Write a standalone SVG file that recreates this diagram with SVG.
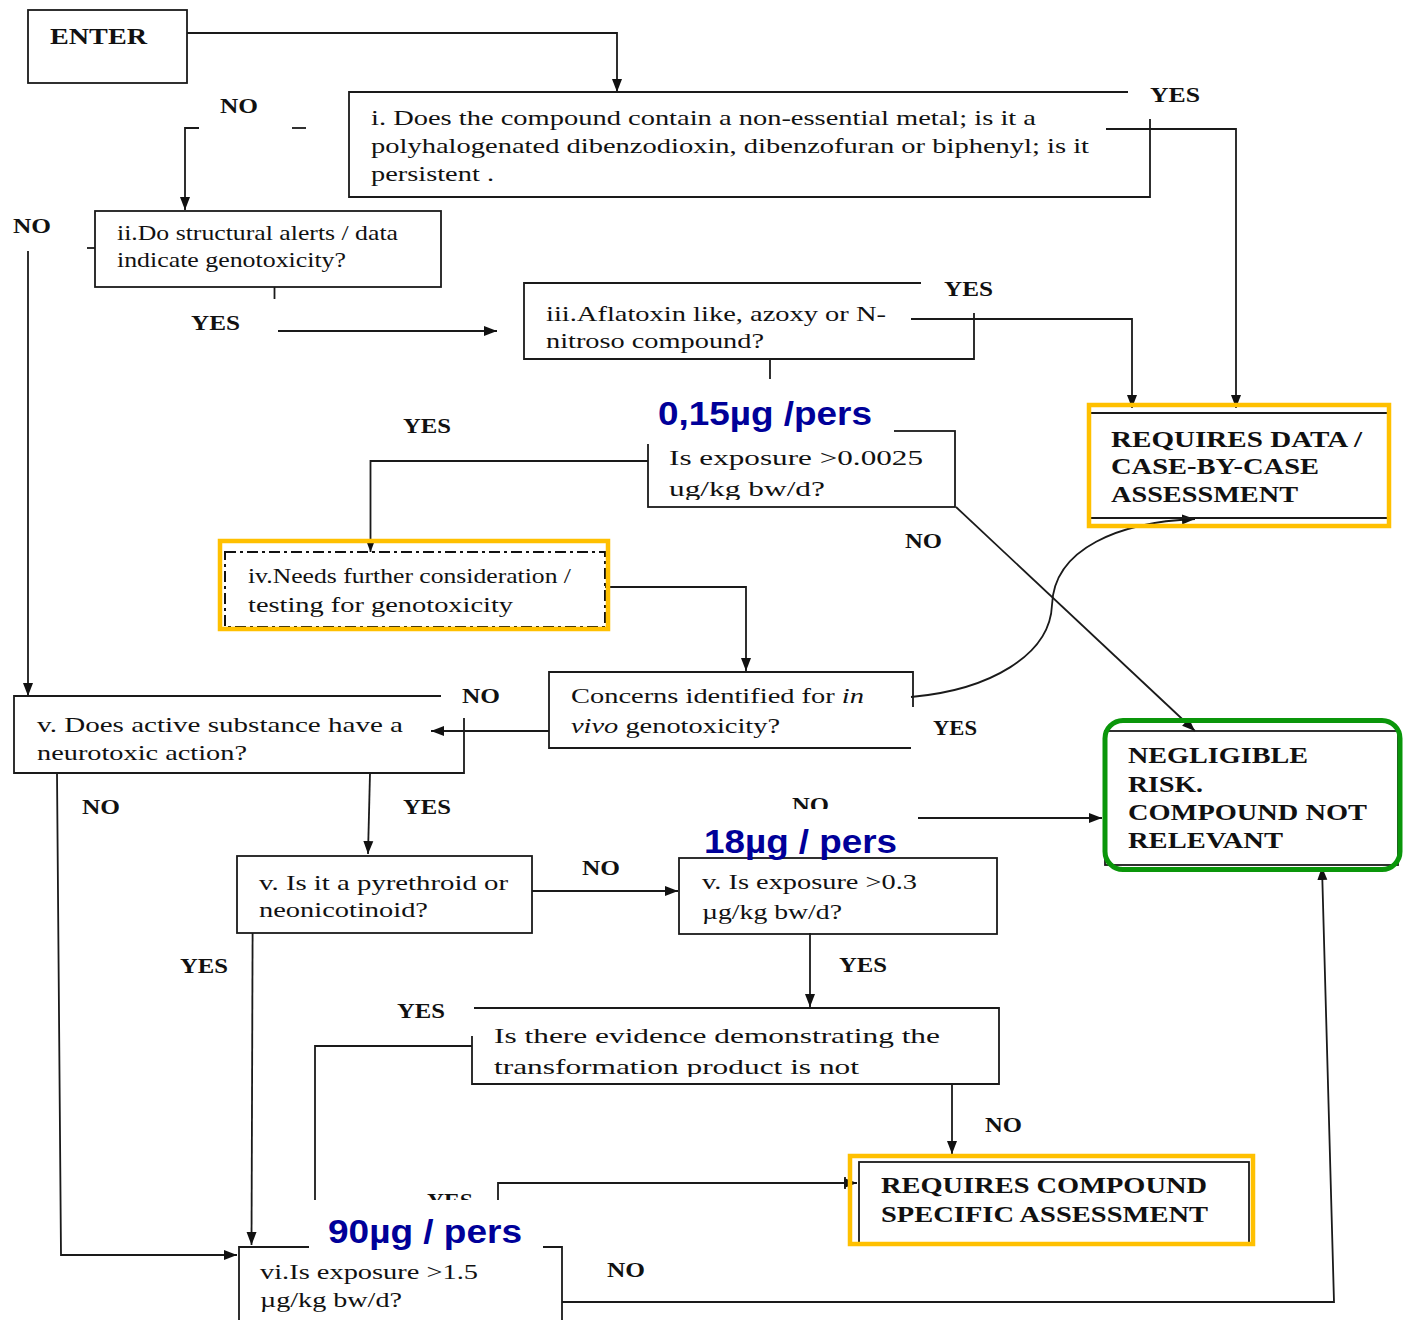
<svg xmlns="http://www.w3.org/2000/svg" width="1403" height="1320" viewBox="0 0 1403 1320">
  <defs>
    <style>
      .ln { fill: none; stroke: #1a1a1a; stroke-width: 1.8; }
      .arr { marker-end: url(#ah); }
      .box { fill: none; stroke: #1a1a1a; stroke-width: 1.8; }
      .t { font-family: "Liberation Serif", "Times New Roman", serif; font-size: 22px; fill: #111; }
      .bt { font-family: "Liberation Serif", "Times New Roman", serif; font-size: 23px; font-weight: bold; fill: #111; }
      .lbl { font-family: "Liberation Serif", "Times New Roman", serif; font-size: 20px; font-weight: bold; fill: #111; }
      .blue { font-family: "Liberation Sans", Arial, sans-serif; font-size: 33px; font-weight: bold; fill: #000099; }
      .patch { fill: #ffffff; stroke: none; }
      .hl-o { fill: none; stroke: #FFC000; stroke-width: 4.5; }
      .hl-g { fill: none; stroke: #0a960a; stroke-width: 5; }
    </style>
    <marker id="ah" viewBox="0 0 13 11" refX="13" refY="5.5" markerWidth="13" markerHeight="11" markerUnits="userSpaceOnUse" orient="auto">
      <path d="M0,0.5 L13,5.5 L0,10.5 z" fill="#111"/>
    </marker>
    <clipPath id="clipExp"><rect x="640" y="430" width="320" height="70"/></clipPath>
    <clipPath id="clipEvid"><rect x="470" y="1005" width="530" height="72"/></clipPath>
  </defs>

  <rect width="1403" height="1320" fill="#ffffff"/>

  <!-- connectors -->
  <g id="connectors">
    <path class="ln arr" d="M187,33 H617 V92"/>
    <path class="ln arr" d="M199,128 H185 V210"/>
    <path class="ln" d="M292,128 H306"/>
    <path class="ln arr" d="M28,251 V696"/>
    <path class="ln" d="M87,248 H95"/>
    <path class="ln" d="M274.5,287 V299"/>
    <path class="ln arr" d="M278,331 H497"/>
    <path class="ln arr" d="M1106,129 H1236 V408"/>
    <path class="ln arr" d="M911,319 H1132 V408"/>
    <path class="ln" d="M770,359 V379"/>
    <path class="ln arr" d="M648,461 H370.5 V552"/>
    <path class="ln arr" d="M956,507 L1195,731"/>
    <path class="ln arr" d="M605,587 H746 V671"/>
    <path class="ln arr" d="M911,697 C990,690 1050,655 1052,605 C1054,548 1120,522 1195,519"/>
    <path class="ln arr" d="M549,731 H431"/>
    <path class="ln arr" d="M370,773 L368,854"/>
    <path class="ln arr" d="M57,773 L61,1255 H237"/>
    <path class="ln arr" d="M532,891 H678"/>
    <path class="ln arr" d="M252.6,933 L251.5,1245"/>
    <path class="ln arr" d="M918,818 H1102"/>
    <path class="ln arr" d="M810,933 V1007"/>
    <path class="ln" d="M472,1046 H315 V1200"/>
    <path class="ln arr" d="M952,1084 V1154"/>
    <path class="ln arr" d="M498,1200 V1183 H857"/>
    <path class="ln" d="M845,1177 V1189"/>
    <path class="ln arr" d="M562,1302 H1334 L1322,867"/>
  </g>

  <!-- branch labels -->
  <g id="branch-labels">
    <text class="lbl" x="220" y="113" textLength="38" lengthAdjust="spacingAndGlyphs">NO</text>
    <text class="lbl" x="1150" y="102" textLength="50" lengthAdjust="spacingAndGlyphs">YES</text>
    <text class="lbl" x="13" y="233" textLength="38" lengthAdjust="spacingAndGlyphs">NO</text>
    <text class="lbl" x="191" y="330" textLength="49" lengthAdjust="spacingAndGlyphs">YES</text>
    <text class="lbl" x="944" y="296" textLength="49" lengthAdjust="spacingAndGlyphs">YES</text>
    <text class="lbl" x="403" y="433" textLength="48" lengthAdjust="spacingAndGlyphs">YES</text>
    <text class="lbl" x="905" y="548" textLength="37" lengthAdjust="spacingAndGlyphs">NO</text>
    <text class="lbl" x="462" y="703" textLength="38" lengthAdjust="spacingAndGlyphs">NO</text>
    <text class="lbl" x="933" y="735" textLength="44" lengthAdjust="spacingAndGlyphs">YES</text>
    <text class="lbl" x="82" y="814" textLength="38" lengthAdjust="spacingAndGlyphs">NO</text>
    <text class="lbl" x="403" y="814" textLength="48" lengthAdjust="spacingAndGlyphs">YES</text>
    <text class="lbl" x="792" y="812" textLength="37" lengthAdjust="spacingAndGlyphs">NO</text>
    <text class="lbl" x="582" y="875" textLength="38" lengthAdjust="spacingAndGlyphs">NO</text>
    <text class="lbl" x="180" y="973" textLength="48" lengthAdjust="spacingAndGlyphs">YES</text>
    <text class="lbl" x="839" y="972" textLength="48" lengthAdjust="spacingAndGlyphs">YES</text>
    <text class="lbl" x="397" y="1018" textLength="48" lengthAdjust="spacingAndGlyphs">YES</text>
    <text class="lbl" x="985" y="1132" textLength="37" lengthAdjust="spacingAndGlyphs">NO</text>
    <text class="lbl" x="427" y="1208" textLength="46" lengthAdjust="spacingAndGlyphs">YES</text>
    <text class="lbl" x="607" y="1277" textLength="38" lengthAdjust="spacingAndGlyphs">NO</text>
  </g>

  <!-- nodes -->
  <g id="enter">
    <rect class="box" x="28" y="10" width="159" height="73"/>
    <text class="bt" x="50" y="44" font-size="22" textLength="97" lengthAdjust="spacingAndGlyphs">ENTER</text>
  </g>

  <g id="q-metal">
    <path class="box" d="M1128,92 H349 V197 H1150 V119"/>
    <text class="t" x="371" y="125" textLength="665" lengthAdjust="spacingAndGlyphs">i. Does the compound contain a non-essential metal; is it a</text>
    <text class="t" x="371" y="153" textLength="718" lengthAdjust="spacingAndGlyphs">polyhalogenated dibenzodioxin, dibenzofuran or biphenyl; is it</text>
    <text class="t" x="371" y="181" textLength="123" lengthAdjust="spacingAndGlyphs">persistent .</text>
  </g>

  <g id="q-alerts">
    <rect class="box" x="95" y="211" width="346" height="76"/>
    <text class="t" x="117" y="240" font-size="20" textLength="281" lengthAdjust="spacingAndGlyphs">ii.Do structural alerts / data</text>
    <text class="t" x="117" y="267" font-size="20" textLength="229" lengthAdjust="spacingAndGlyphs">indicate genotoxicity?</text>
  </g>

  <g id="q-aflatoxin">
    <path class="box" d="M921,283 H524 V359 H974 V313"/>
    <text class="t" x="546" y="321" textLength="340" lengthAdjust="spacingAndGlyphs">iii.Aflatoxin like, azoxy or N-</text>
    <text class="t" x="546" y="348" textLength="218" lengthAdjust="spacingAndGlyphs">nitroso compound?</text>
  </g>

  <g id="q-exposure-0025">
    <rect class="box" x="648" y="431" width="307" height="76"/>
    <text class="t" x="669" y="465" textLength="254" lengthAdjust="spacingAndGlyphs">Is exposure &gt;0.0025</text>
    <text class="t" x="669" y="496" textLength="156" lengthAdjust="spacingAndGlyphs" clip-path="url(#clipExp)">ug/kg bw/d?</text>
  </g>

  <g id="needs-testing">
    <rect x="225" y="552" width="380" height="75" fill="none" stroke="#111" stroke-width="2" stroke-dasharray="11 4 3 4"/>
    <text class="t" x="248" y="583" font-size="21" textLength="323" lengthAdjust="spacingAndGlyphs">iv.Needs further consideration /</text>
    <text class="t" x="248" y="612" font-size="21" textLength="265" lengthAdjust="spacingAndGlyphs">testing for genotoxicity</text>
    <rect class="hl-o" x="220" y="541" width="388" height="88"/>
  </g>

  <g id="q-in-vivo">
    <path class="box" d="M911,748 H549 V672 H913 V707"/>
    <text class="t" x="571" y="703" textLength="293" lengthAdjust="spacingAndGlyphs">Concerns identified for <tspan font-style="italic">in</tspan></text>
    <text class="t" x="571" y="733" textLength="209" lengthAdjust="spacingAndGlyphs"><tspan font-style="italic">vivo</tspan> genotoxicity?</text>
  </g>

  <g id="q-neurotoxic">
    <path class="box" d="M441,696 H14 V773 H464 V718"/>
    <text class="t" x="37" y="732" textLength="366" lengthAdjust="spacingAndGlyphs">v. Does active substance have a</text>
    <text class="t" x="37" y="760" textLength="210" lengthAdjust="spacingAndGlyphs">neurotoxic action?</text>
  </g>

  <g id="q-pyrethroid">
    <rect class="box" x="237" y="856" width="295" height="77"/>
    <text class="t" x="259" y="890" font-size="21" textLength="249" lengthAdjust="spacingAndGlyphs">v. Is it a pyrethroid or</text>
    <text class="t" x="259" y="917" font-size="21" textLength="169" lengthAdjust="spacingAndGlyphs">neonicotinoid?</text>
  </g>

  <g id="q-exposure-03">
    <rect class="box" x="679" y="858" width="318" height="76"/>
    <text class="t" x="702" y="889" font-size="21" textLength="215" lengthAdjust="spacingAndGlyphs">v. Is exposure &gt;0.3</text>
    <text class="t" x="702" y="919" font-size="21" textLength="140" lengthAdjust="spacingAndGlyphs">µg/kg bw/d?</text>
  </g>

  <g id="q-transformation">
    <path class="box" d="M474,1008 H999 V1084 H472 V1036"/>
    <text class="t" x="494" y="1043" font-size="24" textLength="446" lengthAdjust="spacingAndGlyphs">Is there evidence demonstrating the</text>
    <text class="t" x="494" y="1074" font-size="24" textLength="365" lengthAdjust="spacingAndGlyphs" clip-path="url(#clipEvid)">transformation product is not</text>
  </g>

  <g id="q-exposure-15">
    <path class="box" d="M239,1320 V1247 H562 V1320"/>
    <text class="t" x="260" y="1279" font-size="21" textLength="218" lengthAdjust="spacingAndGlyphs">vi.Is exposure &gt;1.5</text>
    <text class="t" x="260" y="1307" font-size="21" textLength="142" lengthAdjust="spacingAndGlyphs">µg/kg bw/d?</text>
  </g>

  <g id="requires-data">
    <path class="box" d="M1090,413 H1388 M1090,518 H1388"/>
    <text class="bt" x="1111" y="447" textLength="251" lengthAdjust="spacingAndGlyphs">REQUIRES DATA /</text>
    <text class="bt" x="1111" y="474" textLength="208" lengthAdjust="spacingAndGlyphs">CASE-BY-CASE</text>
    <text class="bt" x="1111" y="502" textLength="187" lengthAdjust="spacingAndGlyphs">ASSESSMENT</text>
    <rect class="hl-o" x="1089" y="405" width="300" height="121"/>
  </g>

  <g id="negligible-risk">
    <rect class="box" x="1105" y="731" width="293" height="134"/>
    <text class="bt" x="1128" y="763" textLength="180" lengthAdjust="spacingAndGlyphs">NEGLIGIBLE</text>
    <text class="bt" x="1128" y="792" textLength="75" lengthAdjust="spacingAndGlyphs">RISK.</text>
    <text class="bt" x="1128" y="820" textLength="239" lengthAdjust="spacingAndGlyphs">COMPOUND NOT</text>
    <text class="bt" x="1128" y="848" textLength="155" lengthAdjust="spacingAndGlyphs">RELEVANT</text>
    <rect class="hl-g" x="1105" y="720.5" width="295" height="149" rx="18" ry="18"/>
  </g>

  <g id="requires-compound">
    <rect class="box" x="859" y="1162" width="390" height="82"/>
    <text class="bt" x="881" y="1193" font-size="22" textLength="326" lengthAdjust="spacingAndGlyphs">REQUIRES COMPOUND</text>
    <text class="bt" x="881" y="1222" font-size="22" textLength="327" lengthAdjust="spacingAndGlyphs">SPECIFIC ASSESSMENT</text>
    <rect class="hl-o" x="850" y="1156" width="403" height="88"/>
  </g>

  <!-- per-person exposure callouts -->
  <g id="callout-015">
    <rect class="patch" x="645" y="392" width="249" height="52"/>
    <text class="blue" x="658" y="425" textLength="214" lengthAdjust="spacingAndGlyphs">0,15µg /pers</text>
  </g>
  <g id="callout-18">
    <rect class="patch" x="688" y="809" width="230" height="48"/>
    <text class="blue" x="704" y="853" textLength="193" lengthAdjust="spacingAndGlyphs">18µg / pers</text>
  </g>
  <g id="callout-90">
    <rect class="patch" x="309" y="1200" width="234" height="48.5"/>
    <text class="blue" x="328" y="1243" textLength="194" lengthAdjust="spacingAndGlyphs">90µg / pers</text>
  </g>
</svg>
